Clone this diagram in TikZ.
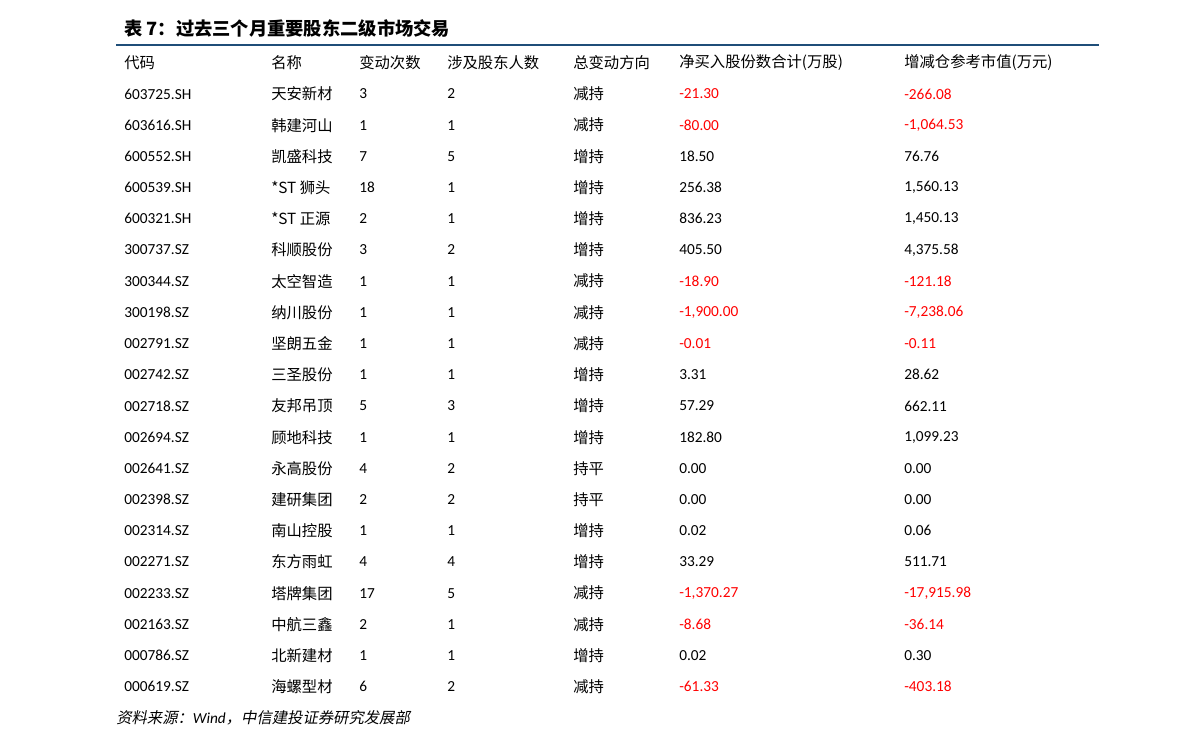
\documentclass[tikz,border=0pt]{standalone}
\usepackage{fontspec}
\setmainfont{Carlito}
\newfontfamily\cjk{Noto Sans CJK SC}
\newfontfamily\cjkit[FakeSlant=0.2]{Noto Sans CJK SC}
\usepackage{xcolor}
\usetikzlibrary{positioning}
\definecolor{titreBleu}{RGB}{31,78,121}
\begin{document}
\begin{tikzpicture}[x=0.75pt, y=-0.75pt,
    cellule/.style={anchor=west, inner sep=0pt, font=\fontsize{11.5}{13}\selectfont},
    entete/.style={cellule, font=\fontsize{11.5}{13}\selectfont\cjk}]
    % Cadre
    \useasboundingbox (0,0) rectangle (1191,748);
    % Titre
    \node[anchor=west, inner sep=0pt, font=\fontsize{13.7}{15}\selectfont\cjk\bfseries] (titre) at (124,29) {表\ 7：过去三个月重要股东二级市场交易};
    \draw[titreBleu, line width=2.2pt] (116,45) -- (1099,45);
    % En-tetes
    \foreach \x/\txt [count=\k] in {124/代码, 271/名称, 359/变动次数, 447/涉及股东人数, 573/总变动方向, 679/净买入股份数合计(万股), 904/增减仓参考市值(万元)}
        \node[entete] (h\k) at (\x,63) {\txt};
    % Donnees
    \foreach \code/\nom/\nb/\pers/\sens/\achat/\valeur/\coul [count=\i from 0] in {
        603725.SH/天安新材/3/2/减持/-21.30/-266.08/red,
        603616.SH/韩建河山/1/1/减持/-80.00/{-1,064.53}/red,
        600552.SH/凯盛科技/7/5/增持/18.50/76.76/black,
        600539.SH/*ST 狮头/18/1/增持/256.38/{1,560.13}/black,
        600321.SH/*ST 正源/2/1/增持/836.23/{1,450.13}/black,
        300737.SZ/科顺股份/3/2/增持/405.50/{4,375.58}/black,
        300344.SZ/太空智造/1/1/减持/-18.90/-121.18/red,
        300198.SZ/纳川股份/1/1/减持/{-1,900.00}/{-7,238.06}/red,
        002791.SZ/坚朗五金/1/1/减持/-0.01/-0.11/red,
        002742.SZ/三圣股份/1/1/增持/3.31/28.62/black,
        002718.SZ/友邦吊顶/5/3/增持/57.29/662.11/black,
        002694.SZ/顾地科技/1/1/增持/182.80/{1,099.23}/black,
        002641.SZ/永高股份/4/2/持平/0.00/0.00/black,
        002398.SZ/建研集团/2/2/持平/0.00/0.00/black,
        002314.SZ/南山控股/1/1/增持/0.02/0.06/black,
        002271.SZ/东方雨虹/4/4/增持/33.29/511.71/black,
        002233.SZ/塔牌集团/17/5/减持/{-1,370.27}/{-17,915.98}/red,
        002163.SZ/中航三鑫/2/1/减持/-8.68/-36.14/red,
        000786.SZ/北新建材/1/1/增持/0.02/0.30/black,
        000619.SZ/海螺型材/6/2/减持/-61.33/-403.18/red} {
        \pgfmathsetmacro{\yy}{94+31.2*\i}
        \node[cellule] (c\i) at (124,\yy) {\code};
        \node[cellule, font=\fontsize{11.5}{13}\selectfont\cjk] (n\i) at (271,\yy) {\nom};
        \node[cellule] (v\i) at (359,\yy) {\nb};
        \node[cellule] (p\i) at (447,\yy) {\pers};
        \node[cellule, font=\fontsize{11.5}{13}\selectfont\cjk] (s\i) at (573,\yy) {\sens};
        \node[cellule, text=\coul] (a\i) at (679,\yy) {\achat};
        \node[cellule, text=\coul] (m\i) at (904,\yy) {\valeur};
    }
    % Source
    \node[anchor=west, inner sep=0pt, font=\fontsize{11.5}{13}\selectfont\itshape] (source) at (116,718) {{\cjkit 资料来源：}Wind{\cjkit ，中信建投证券研究发展部}};
\end{tikzpicture}
\end{document}
